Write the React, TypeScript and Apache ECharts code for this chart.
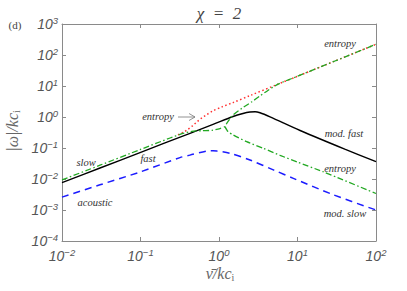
import React, { useEffect, useRef } from "react";
import * as echarts from "echarts";

// ---- data (nu = x, omega = |omega|/kc_i) ----
const fastNu = [0.01, 0.0305, 0.0986, 0.427, 0.84, 1.51, 2.02, 2.48, 2.88, 3.33, 4.47, 10.8, 40, 100];
const fastOmega = [0.0076, 0.0226, 0.0711, 0.298, 0.577, 1.04, 1.3, 1.45, 1.48, 1.37, 1.01, 0.367, 0.092, 0.0365];

const acousticNu = [0.01, 0.0305, 0.0986, 0.318, 0.427, 0.697, 0.84, 0.94, 1.38, 2.48, 5.0, 8.85, 28.6, 100];
const acousticOmega = [0.0026, 0.0065, 0.0168, 0.049, 0.059, 0.08, 0.082, 0.08, 0.0675, 0.041, 0.0194, 0.0105, 0.0031, 0.001];

const slowNu = [0.01, 0.0305, 0.0986, 0.238, 0.338, 0.453, 0.607, 0.814, 1.03, 1.19, 1.26, 1.51, 1.96, 2.63, 3.33, 4.2, 5.65, 10, 30, 100];
const slowOmega = [0.0093, 0.0279, 0.0887, 0.21, 0.29, 0.345, 0.362, 0.372, 0.425, 0.49, 0.63, 1.16, 1.91, 3.12, 4.8, 7.2, 11.5, 20.6, 64, 222];

const entropyLowNu = [1.19, 1.3, 1.52, 2.25, 3.67, 6, 10, 21.1, 100];
const entropyLowOmega = [0.49, 0.34, 0.262, 0.16, 0.098, 0.058, 0.035, 0.0172, 0.0034];

const entropyNu = [0.3, 0.35, 0.391, 0.46, 0.525, 0.6, 0.7, 0.84, 1.09, 1.51, 2.48, 5.65, 10, 30, 100];
const entropyOmega = [0.265, 0.32, 0.381, 0.52, 0.7, 0.92, 1.2, 1.58, 2.12, 2.92, 4.9, 11.5, 20.6, 64, 222];

const xTickExponents = [-2, -1, 0, 1, 2];
const yTickExponents = [-4, -3, -2, -1, 0, 1, 2, 3];

const zip = (a: number[], b: number[]) => a.map((v, i) => [v, b[i]]);

const AXIS_GRAY = "#8a8a8a";
const LABEL_GRAY = "#555";

const supRich = {
  b: {
    fontSize: 14,
    fontStyle: "italic",
    fontFamily: "Liberation Sans",
    color: LABEL_GRAY,
    lineHeight: 18,
  },
  s: {
    fontSize: 9.5,
    fontStyle: "italic",
    fontFamily: "Liberation Sans",
    color: LABEL_GRAY,
    verticalAlign: "top",
  },
};

const powLabel = (v: number) => {
  const e = Math.round(Math.log10(v));
  const s = e < 0 ? "\u2212" + Math.abs(e) : String(e);
  return "{b|10}{s|" + s + "}";
};

const annot = (text: string, x: number, y: number) => ({
  type: "text",
  x,
  y,
  style: {
    text,
    align: "center",
    verticalAlign: "middle",
    fontSize: 10.5,
    fontStyle: "italic",
    fontFamily: "Liberation Serif",
    fill: "#333",
  },
});

export default function App() {
  const ref = useRef<HTMLDivElement>(null);

  useEffect(() => {
    if (!ref.current) return;
    const chart = echarts.init(ref.current, undefined, { renderer: "svg" });

    const axisCommon = {
      type: "log",
      logBase: 10,
      axisLine: { show: true, lineStyle: { color: AXIS_GRAY, width: 1 } },
      axisTick: { show: true, inside: true, length: 4, lineStyle: { color: AXIS_GRAY } },
      minorTick: { show: false },
      splitLine: { show: false },
    };

    chart.setOption({
      animation: false,
      backgroundColor: "#fff",
      grid: { left: 62, right: 31, top: 24, bottom: 50 },
      xAxis: [
        {
          ...axisCommon,
          min: Math.pow(10, xTickExponents[0]),
          max: Math.pow(10, xTickExponents[xTickExponents.length - 1]),
          splitNumber: xTickExponents.length - 1,
          position: "bottom",
          axisLabel: { formatter: powLabel, rich: supRich, margin: 6 },
        },
        {
          ...axisCommon,
          min: Math.pow(10, xTickExponents[0]),
          max: Math.pow(10, xTickExponents[xTickExponents.length - 1]),
          splitNumber: xTickExponents.length - 1,
          position: "top",
          axisLabel: { show: false },
        },
      ],
      yAxis: [
        {
          ...axisCommon,
          min: Math.pow(10, yTickExponents[0]),
          max: Math.pow(10, yTickExponents[yTickExponents.length - 1]),
          splitNumber: yTickExponents.length - 1,
          position: "left",
          axisLabel: { formatter: powLabel, rich: supRich, margin: 4 },
        },
        {
          ...axisCommon,
          min: Math.pow(10, yTickExponents[0]),
          max: Math.pow(10, yTickExponents[yTickExponents.length - 1]),
          splitNumber: yTickExponents.length - 1,
          position: "right",
          axisLabel: { show: false },
        },
      ],
      series: [
        {
          type: "line",
          name: "acoustic",
          data: zip(acousticNu, acousticOmega),
          symbol: "none",
          smooth: 0.3,
          lineStyle: { color: "#1c1cff", width: 1.5, type: [7, 5] },
          z: 2,
        },
        {
          type: "line",
          name: "fast",
          data: zip(fastNu, fastOmega),
          symbol: "none",
          smooth: 0.3,
          lineStyle: { color: "#000", width: 1.4, type: "solid" },
          z: 3,
        },
        {
          type: "line",
          name: "entropy",
          data: zip(entropyNu, entropyOmega),
          symbol: "none",
          smooth: 0.3,
          lineStyle: { color: "#ff3030", width: 1.5, type: [1.5, 2.5] },
          z: 4,
        },
        {
          type: "line",
          name: "slow",
          data: zip(slowNu, slowOmega),
          symbol: "none",
          smooth: 0.2,
          lineStyle: { color: "#22a822", width: 1.3, type: [6, 2.5, 1.5, 2.5] },
          z: 5,
        },
        {
          type: "line",
          name: "entropy2",
          data: zip(entropyLowNu, entropyLowOmega),
          symbol: "none",
          smooth: 0.2,
          lineStyle: { color: "#22a822", width: 1.3, type: [6, 2.5, 1.5, 2.5] },
          z: 5,
        },
      ],
      graphic: [
        {
          type: "text",
          x: 219,
          y: 13,
          style: {
            text: "\u03c7\u2002=\u20022",
            align: "center",
            verticalAlign: "middle",
            fontSize: 17,
            fontStyle: "italic",
            fontFamily: "Liberation Serif",
            fill: "#444",
          },
        },
        {
          type: "text",
          x: 15,
          y: 25,
          style: {
            text: "(d)",
            align: "center",
            verticalAlign: "middle",
            fontSize: 11,
            fontFamily: "Liberation Serif",
            fill: "#444",
          },
        },
        {
          type: "text",
          x: 12,
          y: 131,
          rotation: Math.PI / 2,
          style: {
            text: "{a||\u03c9|/kc}{s|i}",
            align: "center",
            verticalAlign: "middle",
            rich: {
              a: { fontSize: 16, fontStyle: "italic", fontFamily: "Liberation Serif", fill: "#666", lineHeight: 18 },
              s: { fontSize: 10, fontFamily: "Liberation Serif", fill: "#666", verticalAlign: "bottom" },
            },
          },
        },
        {
          type: "text",
          x: 220,
          y: 273,
          style: {
            text: "{a|\u03bd\u0304/kc}{s|i}",
            align: "center",
            verticalAlign: "middle",
            rich: {
              a: { fontSize: 16, fontStyle: "italic", fontFamily: "Liberation Serif", fill: "#666", lineHeight: 18 },
              s: { fontSize: 10, fontFamily: "Liberation Serif", fill: "#666", verticalAlign: "bottom" },
            },
          },
        },
        annot("entropy", 340, 43),
        annot("mod. fast", 344, 133),
        annot("entropy", 340, 168),
        annot("mod. slow", 345, 213),
        annot("slow", 86, 162),
        annot("fast", 148, 158),
        annot("acoustic", 95, 202),
        annot("entropy", 158, 116),
        {
          type: "line",
          shape: { x1: 178, y1: 117, x2: 195, y2: 117 },
          style: { stroke: "#777", lineWidth: 0.8 },
        },
        {
          type: "polyline",
          shape: { points: [[189, 113.5], [195, 117], [189, 120.5]] },
          style: { stroke: "#777", lineWidth: 0.8, fill: null },
        },
      ],
    });

    return () => chart.dispose();
  }, []);

  return (
    <div
      ref={ref}
      style={{ position: "fixed", left: 0, top: 0, width: 407, height: 291, background: "#fff" }}
    />
  );
}
